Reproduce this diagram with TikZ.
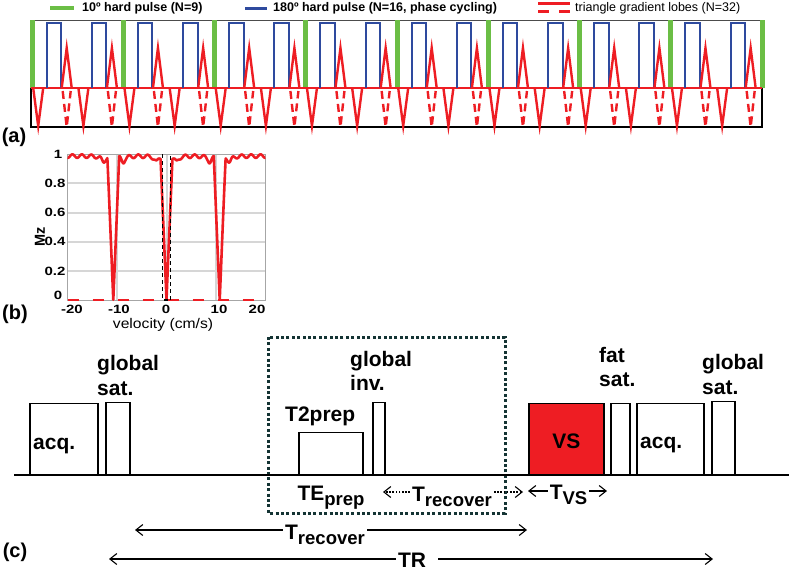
\documentclass[tikz,border=0pt]{standalone}
\usepackage{fontspec}
\setmainfont{Liberation Sans}
\newfontfamily\wfont[FakeStretch=1.25]{Liberation Sans}
\newfontfamily\vfont[FakeStretch=1.12]{Liberation Sans}
\usetikzlibrary{arrows.meta,calc}
\definecolor{pred}{HTML}{EE1D23}
\definecolor{pblue}{HTML}{2E4A9E}
\definecolor{pgreen}{HTML}{6BBE45}
\definecolor{dotcol}{HTML}{143434}
\definecolor{gridg}{HTML}{D6D6D6}
\newcommand\seqfont{\fontsize{21}{25}\selectfont\bfseries}
\newcommand\sbs[1]{\raisebox{-5pt}{\fontsize{18.5}{18.5}\selectfont #1}}
\begin{document}
\begin{tikzpicture}[x=1pt,y=-1pt,
  declare function={dd(\v)=min(abs(\v+10.75),abs(\v),abs(\v-10.75));
    mz(\v)=min(1,dd(\v)/1.2)*(0.988+0.012*cos(360*\v/1.9)-0.04/(1+4*(dd(\v)-2)*(dd(\v)-2)));},
  bluepulse/.style={draw=pblue,line width=2pt},
  gradlobe/.style={draw=pred,line width=2.4pt,line join=miter},
  dashlobe/.style={draw=pred,line width=2.4pt,dash pattern=on 8pt off 5pt},
  legtext/.style={anchor=west,inner sep=0pt,font=\fontsize{12.5}{14}\selectfont\bfseries},
  legtextr/.style={anchor=west,inner sep=0pt,font=\fontsize{12.5}{14}\selectfont},
  panellabel/.style={font=\fontsize{20}{24}\selectfont\bfseries,inner sep=0pt},
  seqbox/.style={draw=black,line width=1.5pt,fill=white,anchor=south west,inner sep=0pt},
  seqtext/.style={font=\seqfont,anchor=base west,inner sep=0pt,align=left},
  dimlabel/.style={font=\seqfont,anchor=base,inner sep=2pt},
  dimarrow/.style={line width=1.1pt,-{Straight Barb[length=7pt,width=11pt]}},
  dotarrow/.style={line width=1.1pt,dash pattern=on 1.6pt off 1.6pt,-{Straight Barb[length=7pt,width=11pt]}},
  ticklab/.style={font=\wfont\fontsize{12}{13}\selectfont\bfseries,inner sep=0pt}
]
\useasboundingbox (0,0) rectangle (789,576);

% ---------------- panel (a) legend
\draw[pgreen,line width=4pt] (50,8) -- (74,8);
\node[legtext] (leg1) at (82,8) {10º hard pulse (N=9)};
\draw[pblue,line width=3pt] (245,8) -- (267,8);
\node[legtext] (leg2) at (273,8) {180º hard pulse (N=16, phase cycling)};
\draw[pred,line width=2.5pt] (538,3.5) -- (570,3.5);
\draw[pred,line width=2.5pt] (538,11.5) -- (549,11.5) (559,11.5) -- (570,11.5);
\node[legtextr] (leg3) at (575,8) {triangle gradient lobes (N=32)};

% ---------------- panel (a) sequence
\draw[line width=0.8pt,black!70] (30,20.5) -- (763,20.5);
\draw[line width=1.5pt] (31,88) rectangle (762,127);
\foreach \k in {0,...,8} \fill[pgreen] ({29.5+91.25*\k},20) rectangle ++(5,68);
\draw[pred,line width=2.4pt] (31,88) -- (762,88);
\foreach \k in {0,...,7}{
  \pgfmathsetmacro\xo{32+91.25*\k}
  \foreach \a in {14.7,59.9}{
    \draw[bluepulse] ({\xo+\a},88) -- ({\xo+\a},23) -- ({\xo+\a+14.5},23) -- ({\xo+\a+14.5},88);
    \pgfmathsetmacro\nc{\xo+\a-8.5}
    \pgfmathsetmacro\pc{\xo+\a+20}
    \draw[gradlobe] ({\nc-5},88) -- (\nc,126) -- ({\nc+5},88);
    \draw[gradlobe] ({\pc-5},88) -- (\pc,48) -- ({\pc+5},88);
    \draw[dashlobe] ({\pc-4},91) -- (\pc,127) -- ({\pc+4},91);
  }
}
\node[panellabel] (la) at (14,137) {(a)};

% ---------------- panel (b)
\begin{scope}[shift={(166.5,300)},x=4.95pt,y=145.7pt]
  \foreach \m in {0.2,0.4,0.6,0.8} \draw[gridg,line width=2pt] (-20,\m) -- (20,\m);
  \foreach \v in {-10,0,10} \draw[gridg,line width=2pt] (\v,0) -- (\v,1);
  \draw[black!35,line width=0.6pt] (-20,0) rectangle (20,1);
  \draw[pred,line width=2.6pt,dash pattern=on 11pt off 14pt] (-20,0) -- (20,0);
  \draw[pred,line width=2.6pt,line join=round] plot[domain=-20:20,samples=801] (\x,{mz(\x)});
  \draw[black,line width=1.4pt,dash pattern=on 4pt off 3pt] (-0.8,1) -- (-0.8,0) -- (0.8,0) -- (0.8,1);
\end{scope}
\node[ticklab] (y1) at (58,154) {1};
\node[ticklab] (y08) at (55,183.4) {0.8};
\node[ticklab] (y06) at (55,212.6) {0.6};
\node[ticklab] (y04) at (55,241.7) {0.4};
\node[ticklab] (y02) at (55,270.9) {0.2};
\node[ticklab] (y0) at (58,295) {0};
\node[ticklab] (xm20) at (72,309) {-20};
\node[ticklab] (xm10) at (119,309) {-10};
\node[ticklab] (x0) at (166,309) {0};
\node[ticklab] (x10) at (219,309) {10};
\node[ticklab] (x20) at (257,309) {20};
\node[font=\vfont\fontsize{14}{16}\selectfont,inner sep=0pt] (vel) at (163,325) {velocity (cm/s)};
\node[font=\fontsize{14.5}{16}\selectfont\bfseries,rotate=90,inner sep=0pt] (mzl) at (40,237) {Mz};
\node[panellabel] (lb) at (15,314) {(b)};

% ---------------- panel (c)
\draw[dotcol,line width=3pt,dash pattern=on 3pt off 2.4pt] (268,337) rectangle (505,513);
\draw[line width=2pt] (14,475) -- (789,475);
\node[seqbox,minimum width=68pt,minimum height=71pt] (acq1) at (29,475) {};
\node[seqbox,minimum width=24pt,minimum height=72pt] (gsat1) at (105,475) {};
\node[seqbox,minimum width=64pt,minimum height=42pt] (t2p) at (298,475) {};
\node[seqbox,minimum width=12pt,minimum height=72pt] (ginv) at (372,475) {};
\node[seqbox,fill=pred,minimum width=75pt,minimum height=71pt] (vs) at (528,475) {};
\node[seqbox,minimum width=19pt,minimum height=71pt] (fsat) at (610,475) {};
\node[seqbox,minimum width=67pt,minimum height=71pt] (acq2) at (636,475) {};
\node[seqbox,minimum width=23pt,minimum height=73pt] (gsat2) at (711,475) {};

\node[seqtext] (tacq1) at (33,449) {acq.};
\node[seqtext] (tgs1) at (97,370.7) {global};
\node[seqtext] (tgs1b) at (97,395.7) {sat.};
\node[seqtext] (tt2) at (285,421.7) {T2prep};
\node[seqtext] (tgi) at (350,366) {global};
\node[seqtext] (tgib) at (350,390.5) {inv.};
\node[seqtext,anchor=base] (tvs) at (vs.center |- 0,448.3) {VS};
\node[seqtext] (tfs) at (599,362.3) {fat};
\node[seqtext] (tfsb) at (599,386.7) {sat.};
\node[seqtext] (tacq2) at (640,448) {acq.};
\node[seqtext] (tgs2) at (702,369.3) {global};
\node[seqtext] (tgs2b) at (702,394) {sat.};

\node[dimlabel] (te) at (331,500) {TE\sbs{prep}};

\coordinate (r1l) at (383,492);
\coordinate (r1r) at (523,492);
\node[dimlabel] (trec1) at (452,501.7) {T\sbs{recover}};
\draw[dotarrow] (trec1.west |- r1l) -- (r1l);
\draw[dotarrow] (trec1.east |- r1r) -- (r1r);

\coordinate (vsl) at (528,491);
\coordinate (vsr) at (607,491);
\node[dimlabel] (tvsd) at (568.5,499) {T\sbs{VS}};
\draw[dimarrow] (tvsd.west |- vsl) -- (vsl);
\draw[dimarrow] (tvsd.east |- vsr) -- (vsr);

\coordinate (r2l) at (135,530);
\coordinate (r2r) at (527,530);
\node[dimlabel] (trec2) at (325,539) {T\sbs{recover}};
\draw[dimarrow] (trec2.west |- r2l) -- (r2l);
\draw[dimarrow] (trec2.east |- r2r) -- (r2r);

\coordinate (trl) at (109,559);
\coordinate (trr) at (713,559);
\node[dimlabel] (tr) at (412,567) {TR};
\draw[dimarrow] (tr.west |- trl) -- (trl);
\draw[dimarrow] ([xshift=10pt]tr.east |- trr) -- (trr);

\node[panellabel] (lc) at (15,552) {(c)};
\end{tikzpicture}
\end{document}
